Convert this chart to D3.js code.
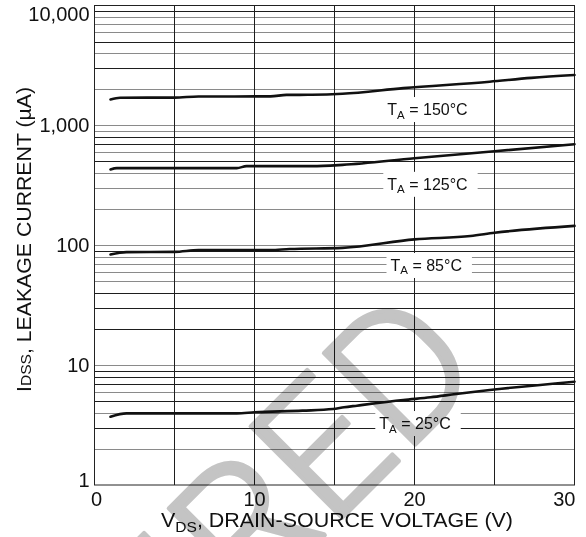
<!DOCTYPE html>
<html>
<head>
<meta charset="utf-8">
<script src="https://cdn.jsdelivr.net/npm/d3@7"></script>
<style>
  html, body { margin: 0; padding: 0; background: #fff; }
  svg { display: block; font-family: "Liberation Sans", Arial, sans-serif; }
</style>
</head>
<body>
<svg id="chart" width="586" height="537"></svg>
<script>
// Leakage current vs drain-source voltage, one curve per ambient temperature

var xTicks = [0, 10, 20, 30];
var xTickLabels = ['0', '10', '20', '30'];
var xGrid = [5, 10, 15, 20, 25];
var yTicks = [1, 10, 100, 1000, 10000];
var yTickLabels = ['1', '10', '100', '1,000', '10,000'];

var temps = ['150°C', '125°C', '85°C', '25°C'];

var vds150 = [1, 1.6, 5, 6.5, 11, 12, 13.6, 15.5, 19.3, 24.7, 27.3, 30];
var idss150 = [1645, 1700, 1705, 1740, 1745, 1795, 1800, 1835, 2045, 2315, 2490, 2630];

var vds125 = [1, 1.4, 8.9, 9.5, 13.6, 15.5, 20, 25, 30];
var idss125 = [429, 440, 440, 457, 457, 468, 532, 608, 696];

var vds85 = [1, 2, 5, 6.5, 11, 12.2, 15.5, 20, 23.5, 25, 30];
var idss85 = [83.7, 87.7, 88, 91, 91, 93, 95, 112, 119.5, 127, 145];

var vds25 = [1, 2, 8.9, 10, 13, 14.9, 15.6, 16.4, 19.3, 21, 22.6, 24.7, 30];
var idss25 = [3.71, 3.96, 3.96, 4.04, 4.17, 4.30, 4.45, 4.59, 5.11, 5.39, 5.74, 6.2, 7.27];

// where each T_A label sits, in chart units (V, uA)
var labelV = [18.3, 18.3, 18.5, 17.8];
var labelI = [1220, 290, 61, 2.93];

// minor grid lines that print grey in the original scan
var greyLines = [2000, 4000, 6000, 7000, 8000,
                 1000, 900, 600, 400, 300, 200,
                 100, 80, 70, 60, 50, 10,
                 6, 4, 2];

(function () {
  var svg = d3.select('#chart');
  var margin = { left: 94.5, right: 574.5, top: 5.5, bottom: 485 };

  var x = d3.scaleLinear().domain([0, 30]).range([margin.left, margin.right]);
  var y = d3.scaleLog().domain([1, 10000]).range([margin.bottom, margin.top]);

  // grid
  var hLines = [];
  [1, 10, 100, 1000].forEach(function(d) {
    for (var k = 2; k <= 10; k++) hLines.push(k * d);
  });
  hLines = hLines.filter(function(v) { return v < 10000; });

  var grid = svg.append('g');
  grid.selectAll('line.h')
    .data(hLines)
    .enter().append('line')
    .attr('class', 'h')
    .attr('x1', margin.left).attr('x2', margin.right)
    .attr('y1', function(d) { return Math.round(y(d)) + 0.5; })
    .attr('y2', function(d) { return Math.round(y(d)) + 0.5; })
    .attr('stroke', function(d) { return greyLines.indexOf(d) >= 0 ? '#8a8a8a' : '#1e1e1e'; })
    .attr('stroke-width', 1);

  grid.selectAll('line.v')
    .data(xGrid)
    .enter().append('line')
    .attr('class', 'v')
    .attr('x1', function(d) { return x(d); })
    .attr('x2', function(d) { return x(d); })
    .attr('y1', margin.top).attr('y2', margin.bottom)
    .attr('stroke', '#1e1e1e')
    .attr('stroke-width', 1);

  svg.append('rect')
    .attr('x', margin.left).attr('y', margin.top)
    .attr('width', margin.right - margin.left)
    .attr('height', margin.bottom - margin.top)
    .attr('fill', 'none')
    .attr('stroke', '#222')
    .attr('stroke-width', 1);

  // curves
  var series = [
    { v: vds150, i: idss150 },
    { v: vds125, i: idss125 },
    { v: vds85, i: idss85 },
    { v: vds25, i: idss25 }
  ];

  var line = d3.line()
    .x(function(d) { return x(d[0]); })
    .y(function(d) { return y(d[1]); })
    .curve(d3.curveMonotoneX);

  svg.append('g').selectAll('path')
    .data(series)
    .enter().append('path')
    .attr('d', function(s) { return line(d3.zip(s.v, s.i)); })
    .attr('fill', 'none')
    .attr('stroke', '#111')
    .attr('stroke-width', 2.6)
    .attr('stroke-linecap', 'round');

  // temperature labels on white boxes
  var labels = svg.append('g');
  temps.forEach(function(t, k) {
    var lx = x(labelV[k]), ly = y(labelI[k]);
    var box = labels.append('rect').attr('fill', '#fff');
    var txt = labels.append('text')
      .attr('x', lx).attr('y', ly)
      .attr('font-size', 16)
      .attr('fill', '#111');
    txt.append('tspan').text('T');
    txt.append('tspan').attr('font-size', 11.5).attr('dy', 3.5).text('A');
    txt.append('tspan').attr('dy', -3.5).text(' = ' + t);
    var w = txt.node().getComputedTextLength();
    box.attr('x', lx - 4).attr('y', ly - 18)
      .attr('width', w + 14).attr('height', 25);
  });

  // tick labels
  svg.append('g').selectAll('text')
    .data(yTicks)
    .enter().append('text')
    .attr('x', margin.left - 5)
    .attr('y', function(d) { return Math.min(Math.max(y(d) + 7, 21), 487); })
    .attr('text-anchor', 'end')
    .attr('font-size', 20)
    .attr('fill', '#111')
    .text(function(d, k) { return yTickLabels[k]; });

  svg.append('g').selectAll('text')
    .data(xTicks)
    .enter().append('text')
    .attr('x', function(d) { return d === 30 ? x(d) + 1 : x(d) + (d === 0 ? 2 : 0); })
    .attr('y', 506)
    .attr('text-anchor', function(d) { return d === 30 ? 'end' : 'middle'; })
    .attr('font-size', 20)
    .attr('fill', '#111')
    .text(function(d, k) { return xTickLabels[k]; });

  // axis titles
  var xt = svg.append('text')
    .attr('x', 161).attr('y', 527)
    .attr('font-size', 20)
    .attr('fill', '#111');
  xt.append('tspan').text('V');
  xt.append('tspan').attr('font-size', 14.5).attr('dy', 5).text('DS');
  xt.append('tspan').attr('dy', -5).text(', DRAIN-SOURCE VOLTAGE (V)');
  xt.attr('textLength', 352).attr('lengthAdjust', 'spacingAndGlyphs');

  var yt = svg.append('text')
    .attr('transform', 'translate(31,392) rotate(-90)')
    .attr('font-size', 20.5)
    .attr('fill', '#111');
  yt.append('tspan').text('I');
  yt.append('tspan').attr('font-size', 15).text('DSS');
  yt.append('tspan').text(', LEAKAGE CURRENT (µA)');
  yt.attr('textLength', 305).attr('lengthAdjust', 'spacingAndGlyphs');

  // scan watermark
  svg.append('text')
    .attr('transform', 'translate(488,372) rotate(-45)')
    .attr('text-anchor', 'end')
    .attr('font-family', 'Roboto, "Liberation Sans", sans-serif')
    .attr('font-weight', 300)
    .attr('font-size', 182)
    .attr('fill', '#c4c4c4')
    .attr('stroke', '#c4c4c4')
    .attr('stroke-width', 4)
    .attr('stroke-linejoin', 'round')
    .style('mix-blend-mode', 'multiply')
    .text('RETIRED');
})();
</script>
</body>
</html>
